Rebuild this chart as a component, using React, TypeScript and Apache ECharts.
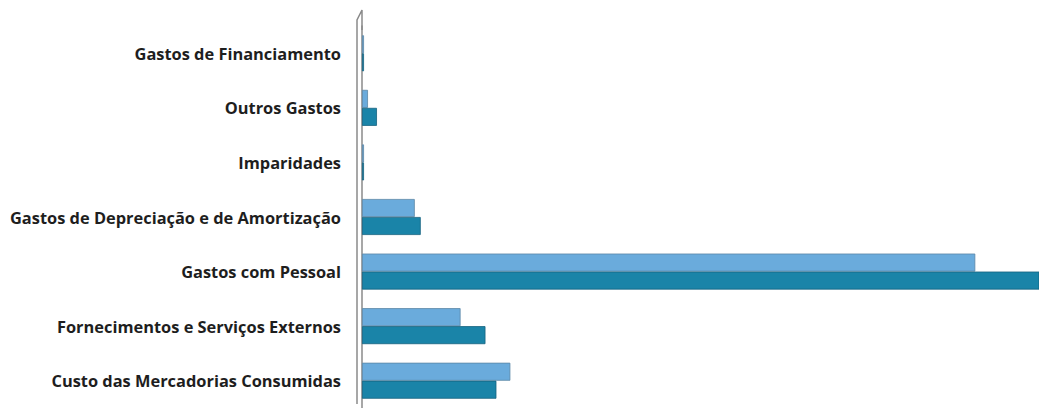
import React, { useEffect, useRef } from "react";
import * as echarts from "echarts";

const categories = [
  "Custo das Mercadorias Consumidas",
  "Fornecimentos e Serviços Externos",
  "Gastos com Pessoal",
  "Gastos de Depreciação e de Amortização",
  "Imparidades",
  "Outros Gastos",
  "Gastos de Financiamento",
];
const seriesA = [149, 99, 616, 53, 2, 6, 2];
const seriesB = [135, 124, 700, 59, 2, 15, 2];

export default function App() {
  const ref = useRef<HTMLDivElement>(null);
  useEffect(() => {
    const chart = echarts.init(ref.current!, null, { renderer: "svg" });
    chart.setOption({
      animation: false,
      backgroundColor: "#ffffff",
      grid: { left: 362, right: 0, top: 26, height: 390, containLabel: false },
      xAxis: {
        type: "value",
        min: 0,
        max: 680,
        show: false,
      },
      yAxis: {
        type: "category",
        data: categories,
        axisLine: { show: true, lineStyle: { color: "#8a8a8a", width: 1.5 } },
        axisTick: { show: false },
        axisLabel: {
          margin: 21,
          fontFamily: "Open Sans",
          fontWeight: "bold",
          fontSize: 16.4,
          color: "#1e1e1e",
        },
      },
      graphic: [
        {
          type: "polyline",
          shape: { points: [[357, 404], [357, 20], [362, 10], [362, 30]] },
          style: { stroke: "#8a8a8a", lineWidth: 1.5, fill: null },
        },
      ],
      series: [
        {
          type: "bar",
          data: seriesA,
          barWidth: 18,
          barGap: "0%",
          clip: true,
          itemStyle: { color: "#6aabdc", borderColor: "#5a86a6", borderWidth: 0.8 },
        },
        {
          type: "bar",
          data: seriesB,
          barWidth: 18,
          barGap: "0%",
          clip: true,
          itemStyle: { color: "#1a84a8", borderColor: "#15627f", borderWidth: 0.8 },
        },
      ],
    });
    return () => chart.dispose();
  }, []);
  return (
    <div
      ref={ref}
      style={{ position: "absolute", left: 0, top: 0, width: 1039, height: 408 }}
    />
  );
}
